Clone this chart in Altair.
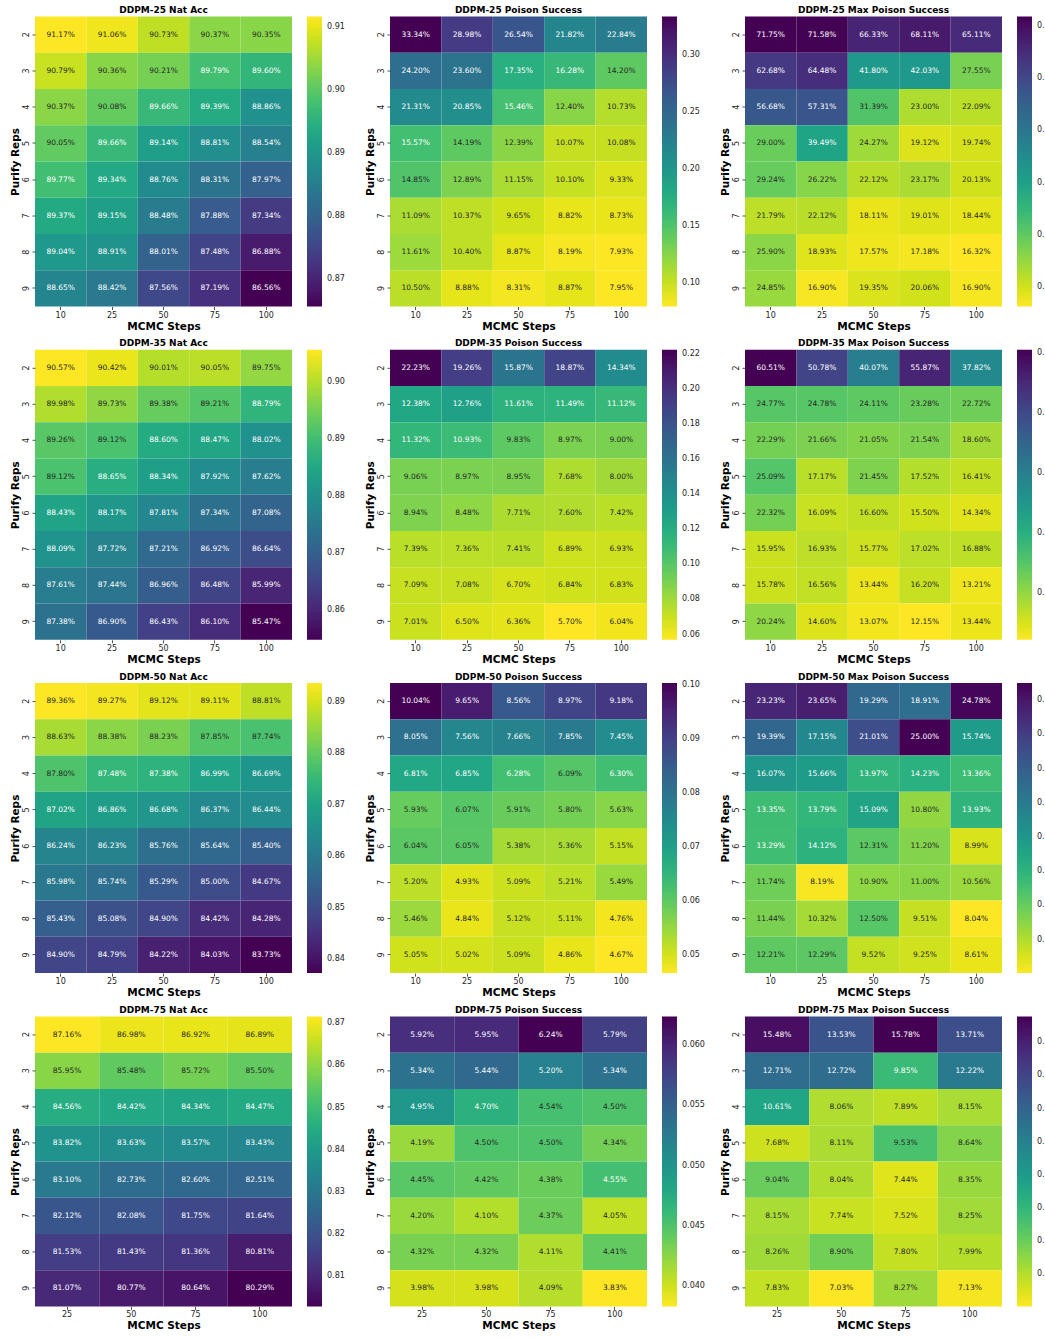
import altair as alt
import pandas as pd

# Grid axes
reps = [2, 3, 4, 5, 6, 7, 8, 9]
steps_full = [10, 25, 50, 75, 100]
steps_short = [25, 50, 75, 100]

# Values in percent: one row per purify-rep count, one column per MCMC step count
nat_25 = [
    [91.17, 91.06, 90.73, 90.37, 90.35],
    [90.79, 90.36, 90.21, 89.79, 89.60],
    [90.37, 90.08, 89.66, 89.39, 88.86],
    [90.05, 89.66, 89.14, 88.81, 88.54],
    [89.77, 89.34, 88.76, 88.31, 87.97],
    [89.37, 89.15, 88.48, 87.88, 87.34],
    [89.04, 88.91, 88.01, 87.48, 86.88],
    [88.65, 88.42, 87.56, 87.19, 86.56],
]
poison_25 = [
    [33.34, 28.98, 26.54, 21.82, 22.84],
    [24.20, 23.60, 17.35, 16.28, 14.20],
    [21.31, 20.85, 15.46, 12.40, 10.73],
    [15.57, 14.19, 12.39, 10.07, 10.08],
    [14.85, 12.89, 11.15, 10.10, 9.33],
    [11.09, 10.37, 9.65, 8.82, 8.73],
    [11.61, 10.40, 8.87, 8.19, 7.93],
    [10.50, 8.88, 8.31, 8.87, 7.95],
]
maxp_25 = [
    [71.75, 71.58, 66.33, 68.11, 65.11],
    [62.68, 64.48, 41.80, 42.03, 27.55],
    [56.68, 57.31, 31.39, 23.00, 22.09],
    [29.00, 39.49, 24.27, 19.12, 19.74],
    [29.24, 26.22, 22.12, 23.17, 20.13],
    [21.79, 22.12, 18.11, 19.01, 18.44],
    [25.90, 18.93, 17.57, 17.18, 16.32],
    [24.85, 16.90, 19.35, 20.06, 16.90],
]

nat_35 = [
    [90.57, 90.42, 90.01, 90.05, 89.75],
    [89.98, 89.73, 89.38, 89.21, 88.79],
    [89.26, 89.12, 88.60, 88.47, 88.02],
    [89.12, 88.65, 88.34, 87.92, 87.62],
    [88.43, 88.17, 87.81, 87.34, 87.08],
    [88.09, 87.72, 87.21, 86.92, 86.64],
    [87.61, 87.44, 86.96, 86.48, 85.99],
    [87.38, 86.90, 86.43, 86.10, 85.47],
]
poison_35 = [
    [22.23, 19.26, 15.87, 18.87, 14.34],
    [12.38, 12.76, 11.61, 11.49, 11.12],
    [11.32, 10.93, 9.83, 8.97, 9.00],
    [9.06, 8.97, 8.95, 7.68, 8.00],
    [8.94, 8.48, 7.71, 7.60, 7.42],
    [7.39, 7.36, 7.41, 6.89, 6.93],
    [7.09, 7.08, 6.70, 6.84, 6.83],
    [7.01, 6.50, 6.36, 5.70, 6.04],
]
maxp_35 = [
    [60.51, 50.78, 40.07, 55.87, 37.82],
    [24.77, 24.78, 24.11, 23.28, 22.72],
    [22.29, 21.66, 21.05, 21.54, 18.60],
    [25.09, 17.17, 21.45, 17.52, 16.41],
    [22.32, 16.09, 16.60, 15.50, 14.34],
    [15.95, 16.93, 15.77, 17.02, 16.88],
    [15.78, 16.56, 13.44, 16.20, 13.21],
    [20.24, 14.60, 13.07, 12.15, 13.44],
]

nat_50 = [
    [89.36, 89.27, 89.12, 89.11, 88.81],
    [88.63, 88.38, 88.23, 87.85, 87.74],
    [87.80, 87.48, 87.38, 86.99, 86.69],
    [87.02, 86.86, 86.68, 86.37, 86.44],
    [86.24, 86.23, 85.76, 85.64, 85.40],
    [85.98, 85.74, 85.29, 85.00, 84.67],
    [85.43, 85.08, 84.90, 84.42, 84.28],
    [84.90, 84.79, 84.22, 84.03, 83.73],
]
poison_50 = [
    [10.04, 9.65, 8.56, 8.97, 9.18],
    [8.05, 7.56, 7.66, 7.85, 7.45],
    [6.81, 6.85, 6.28, 6.09, 6.30],
    [5.93, 6.07, 5.91, 5.80, 5.63],
    [6.04, 6.05, 5.38, 5.36, 5.15],
    [5.20, 4.93, 5.09, 5.21, 5.49],
    [5.46, 4.84, 5.12, 5.11, 4.76],
    [5.05, 5.02, 5.09, 4.86, 4.67],
]
maxp_50 = [
    [23.23, 23.65, 19.29, 18.91, 24.78],
    [19.39, 17.15, 21.01, 25.00, 15.74],
    [16.07, 15.66, 13.97, 14.23, 13.36],
    [13.35, 13.79, 15.09, 10.80, 13.93],
    [13.29, 14.12, 12.31, 11.20, 8.99],
    [11.74, 8.19, 10.90, 11.00, 10.56],
    [11.44, 10.32, 12.50, 9.51, 8.04],
    [12.21, 12.29, 9.52, 9.25, 8.61],
]

nat_75 = [
    [87.16, 86.98, 86.92, 86.89],
    [85.95, 85.48, 85.72, 85.50],
    [84.56, 84.42, 84.34, 84.47],
    [83.82, 83.63, 83.57, 83.43],
    [83.10, 82.73, 82.60, 82.51],
    [82.12, 82.08, 81.75, 81.64],
    [81.53, 81.43, 81.36, 80.81],
    [81.07, 80.77, 80.64, 80.29],
]
poison_75 = [
    [5.92, 5.95, 6.24, 5.79],
    [5.34, 5.44, 5.20, 5.34],
    [4.95, 4.70, 4.54, 4.50],
    [4.19, 4.50, 4.50, 4.34],
    [4.45, 4.42, 4.38, 4.55],
    [4.20, 4.10, 4.37, 4.05],
    [4.32, 4.32, 4.11, 4.41],
    [3.98, 3.98, 4.09, 3.83],
]
maxp_75 = [
    [15.48, 13.53, 15.78, 13.71],
    [12.71, 12.72, 9.85, 12.22],
    [10.61, 8.06, 7.89, 8.15],
    [7.68, 8.11, 9.53, 8.64],
    [9.04, 8.04, 7.44, 8.35],
    [8.15, 7.74, 7.52, 8.25],
    [8.26, 8.90, 7.80, 7.99],
    [7.83, 7.03, 8.27, 7.13],
]

# Colorbar tick values
ticks_nat = [
    [0.87, 0.88, 0.89, 0.90, 0.91],
    [0.86, 0.87, 0.88, 0.89, 0.90],
    [0.84, 0.85, 0.86, 0.87, 0.88, 0.89],
    [0.81, 0.82, 0.83, 0.84, 0.85, 0.86, 0.87],
]
ticks_poison = [
    [0.10, 0.15, 0.20, 0.25, 0.30],
    [0.06, 0.08, 0.10, 0.12, 0.14, 0.16, 0.18, 0.20, 0.22],
    [0.05, 0.06, 0.07, 0.08, 0.09, 0.10],
    [0.040, 0.045, 0.050, 0.055, 0.060],
]
ticks_maxp = [
    [0.2, 0.3, 0.4, 0.5, 0.6, 0.7],
    [0.2, 0.3, 0.4, 0.5, 0.6],
    [0.10, 0.12, 0.14, 0.16, 0.18, 0.20, 0.22, 0.24],
    [0.08, 0.09, 0.10, 0.11, 0.12, 0.13, 0.14, 0.15],
]
fmt_nat = [".2f", ".2f", ".2f", ".2f"]
fmt_poison = [".2f", ".2f", ".2f", ".3f"]
fmt_maxp = [".1f", ".1f", ".2f", ".2f"]

models = ["DDPM-25", "DDPM-35", "DDPM-50", "DDPM-75"]
nat_all = [nat_25, nat_35, nat_50, nat_75]
poison_all = [poison_25, poison_35, poison_50, poison_75]
maxp_all = [maxp_25, maxp_35, maxp_50, maxp_75]
steps_all = [steps_full, steps_full, steps_full, steps_short]

FONT = "DejaVu Sans"
CELL_W = 257
CELL_H = 290


def heatmap(title, grid, steps, reverse, ticks, fmt):
    rows = []
    for r, vals in zip(reps, grid):
        for s, v in zip(steps, vals):
            rows.append({"steps": s, "reps": r, "v": v / 100.0})
    df = pd.DataFrame(rows)
    lo = float(df["v"].min())
    hi = float(df["v"].max())
    pos = (df["v"] - lo) / (hi - lo)
    df["pos"] = 1 - pos if reverse else pos

    base = alt.Chart(df).encode(
        x=alt.X(
            "steps:O",
            title="MCMC Steps",
            scale=alt.Scale(paddingInner=0, paddingOuter=0),
            axis=alt.Axis(labelAngle=0),
        ),
        y=alt.Y(
            "reps:O",
            title="Purify Reps",
            scale=alt.Scale(paddingInner=0, paddingOuter=0),
            axis=alt.Axis(labelAngle=270),
        ),
    )
    rect = base.mark_rect(strokeWidth=0).encode(
        color=alt.Color(
            "v:Q",
            scale=alt.Scale(
                scheme="viridis", reverse=reverse, domain=[lo, hi], nice=False, zero=False
            ),
            legend=alt.Legend(
                title=None,
                values=ticks,
                format=fmt,
                orient="right",
                direction="vertical",
                gradientLength=CELL_H,
                gradientThickness=15,
                gradientStrokeWidth=0,
                offset=15,
                padding=0,
                labelOffset=5,
                labelFont=FONT,
                labelFontSize=8,
                labelColor="#262626",
            ),
        )
    )
    text = base.mark_text(font=FONT, fontSize=7.5, align="center", baseline="middle").encode(
        text=alt.Text("v:Q", format=".2%"),
        color=alt.condition("datum.pos < 0.705", alt.value("#ffffff"), alt.value("#262626")),
    )
    return alt.layer(rect, text).properties(width=CELL_W, height=CELL_H, title=title)


panels = []
for i, m in enumerate(models):
    panels.append(heatmap(f"{m} Nat Acc", nat_all[i], steps_all[i], False, ticks_nat[i], fmt_nat[i]))
    panels.append(heatmap(f"{m} Poison Success", poison_all[i], steps_all[i], True, ticks_poison[i], fmt_poison[i]))
    panels.append(heatmap(f"{m} Max Poison Success", maxp_all[i], steps_all[i], True, ticks_maxp[i], fmt_maxp[i]))

chart = (
    alt.concat(*panels, columns=3, spacing={"row": 43.3, "column": 98}, bounds="flush")
    .resolve_scale(color="independent")
    .properties(padding={"left": 10, "top": 5.5, "right": -11.5, "bottom": 0})
    .configure_view(stroke="transparent")
    .configure_title(font=FONT, fontSize=9, fontWeight="bold", color="#000000", offset=1.5, anchor="middle")
    .configure_axis(
        domain=False,
        labelFont=FONT,
        labelFontSize=8,
        labelColor="#262626",
        tickColor="#262626",
        tickSize=3,
        tickWidth=0.8,
        labelPadding=1.5,
        titleFont=FONT,
        titleFontSize=10.5,
        titleFontWeight="bold",
        titleColor="#000000",
        titlePadding=2,
        grid=False,
    )
)

chart.save("out.html", embed_options={"renderer": "svg", "actions": False})
